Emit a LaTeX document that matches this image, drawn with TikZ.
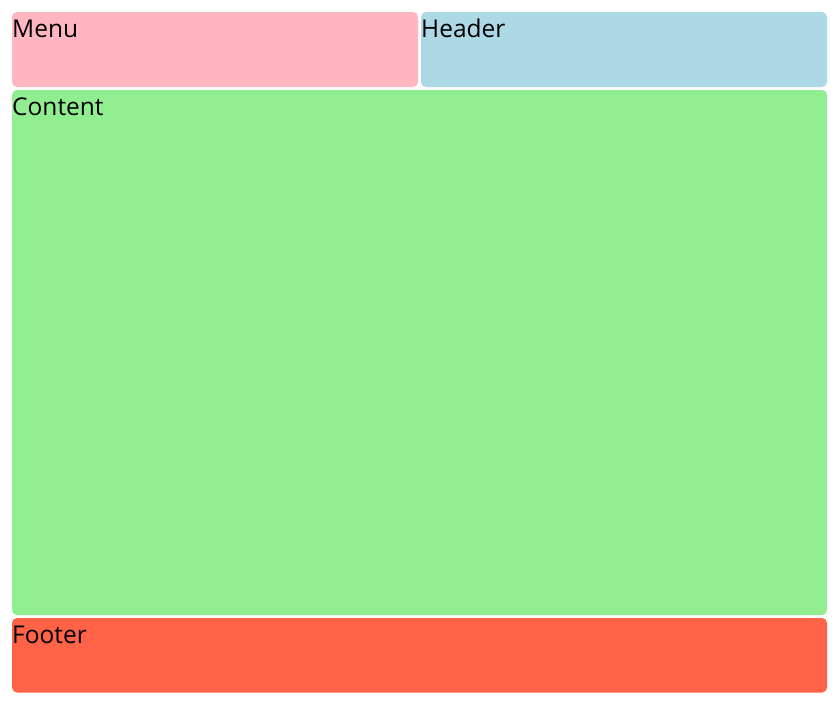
\documentclass[tikz,border=0pt]{standalone}
\usepackage{fontspec}
\setmainfont{Open Sans}
\definecolor{menupink}{RGB}{255,182,193}
\definecolor{headerblue}{RGB}{173,216,230}
\definecolor{contentgreen}{RGB}{144,238,144}
\definecolor{footerred}{RGB}{255,99,71}
\begin{document}
\begin{tikzpicture}[x=1pt,y=-1pt,
  panel/.style={rounded corners=5pt},
  label/.style={anchor=base west,inner sep=0pt,font=\fontsize{24.5}{29}\selectfont}]
\useasboundingbox[fill=white] (0,0) rectangle (839,704);
% page regions
\fill[panel,menupink] (12,12) rectangle (418,87);
\fill[panel,headerblue] (421,12) rectangle (827,87);
\fill[panel,contentgreen] (12,90) rectangle (827,615);
\fill[panel,footerred] (12,618) rectangle (827,692.5);
% region labels
\node[label] (menu) at (12,37) {Menu};
\node[label] (header) at (421,37) {Header};
\node[label] (content) at (12,115) {Content};
\node[label] (footer) at (12,643) {Footer};
\end{tikzpicture}
\end{document}
